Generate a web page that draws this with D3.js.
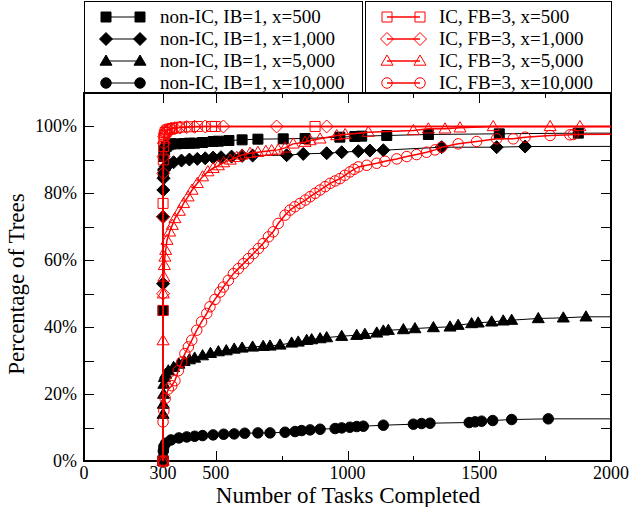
<!DOCTYPE html>
<html>
<head>
<meta charset="utf-8">
<script src="https://cdn.jsdelivr.net/npm/d3@7/dist/d3.min.js"></script>
<style>
  body { margin: 0; background: #fff; }
  text { font-family: "Liberation Serif", "Times New Roman", serif; fill: #000; }
</style>
</head>
<body>
<div id="chart"></div>
<script>
// [tasks completed, % of trees]; the last point of each series lies past 2000 so the line runs to the edge
const nonIC500 = [[300,0],[300,45],[301,86],[303,91],[306,93],[312,94],[320,94.5],[330,94.8],[350,94.8],[380,94.9],[400,95],[420,95],[450,95.2],[490,95.5],[510,95.6],[550,95.8],[600,96],[660,96.2],[756,96.3],[839,96.4],[971,96.8],[1028,97],[1054,97.1],[1149,97.3],[1307,97.6],[1576,97.8],[1876,98],[2500,98]];
const nonIC1000 = [[300,0],[300,53],[300,73],[301,81],[302,84.5],[304,87],[310,88],[320,88.5],[340,89.3],[370,89.8],[400,90.1],[430,90.3],[460,90.5],[490,90.7],[520,90.8],[560,91],[600,91.2],[640,91.3],[769,91.4],[832,91.8],[921,92],[978,92.3],[1041,92.6],[1085,92.8],[1136,92.9],[1357,93.8],[1566,93.8],[1674,94],[2500,94.1]];
const nonIC5000 = [[300,0],[300,14],[301,17],[302,20],[303,23],[305,25],[310,26],[320,27],[340,28],[360,29],[380,29.8],[400,30.3],[420,30.8],[450,31.5],[480,32.2],[510,32.7],[540,33],[570,33.5],[600,33.8],[640,34.1],[680,34.3],[706,34.4],[744,34.7],[788,35.3],[813,35.6],[845,36.1],[864,36.3],[896,36.6],[921,36.9],[978,37.3],[1035,37.6],[1066,37.9],[1111,38.3],[1136,38.9],[1155,39.1],[1212,39.3],[1256,39.6],[1326,39.9],[1389,40.1],[1420,40.6],[1471,41.1],[1496,41.3],[1547,41.6],[1591,41.9],[1623,42.1],[1724,42.6],[1819,42.8],[1905,43.1],[2500,43.1]];
const nonIC10000 = [[300,0],[300,1],[301,3],[303,4.3],[310,5.3],[330,6.3],[360,6.9],[390,7.2],[420,7.4],[450,7.6],[490,7.8],[530,8],[570,8.1],[610,8.3],[660,8.4],[706,8.4],[763,8.6],[801,8.8],[826,9.1],[858,9.3],[896,9.5],[953,9.7],[978,9.9],[1009,10.1],[1035,10.3],[1060,10.4],[1136,10.7],[1250,11],[1281,11.2],[1313,11.3],[1462,11.5],[1484,11.7],[1509,11.9],[1551,12.1],[1623,12.4],[1762,12.6],[2500,12.6]];
const ic500 = [[300,0],[300,45],[300,77],[301,90],[302,94],[303,96.5],[305,97.5],[308,98.2],[312,98.6],[318,99],[325,99.2],[335,99.4],[350,99.6],[370,99.8],[400,99.9],[430,100],[484,100],[498,100],[877,100],[2500,100]];
const ic1000 = [[300,0],[300,50],[300,73],[301,86],[302,91],[303,95],[305,97],[308,98],[312,98.5],[320,99],[330,99.3],[345,99.5],[365,99.7],[390,99.8],[420,99.9],[460,100],[529,100],[731,100],[921,100],[2500,100]];
const ic5000 = [[300,0],[300,36],[301,50],[303,55],[305,58.5],[307,61],[310,63],[315,66],[325,68.5],[335,70.5],[345,72.5],[362,74.7],[378,77],[395,79],[410,81],[430,83],[450,85],[470,86.5],[490,87.5],[510,88.3],[530,89.2],[555,90],[580,90.8],[600,91.5],[630,92],[660,92.3],[690,92.6],[712,92.8],[737,93],[763,93.6],[794,94.8],[839,95.3],[858,95.8],[896,96.3],[959,97.3],[991,97.6],[1079,98.3],[1250,98.8],[1307,99.3],[1370,99.3],[1427,99.6],[1553,100],[1769,100],[1882,100],[2500,100]];
const ic10000 = [[300,0],[300,11.7],[303,15],[308,18.7],[320,21.5],[333,22.5],[345,24],[358,27],[371,29.6],[383,32.1],[396,34.1],[409,36.1],[428,39.1],[446,41.6],[466,44.1],[478,46.1],[497,48.3],[516,50.5],[529,52],[548,54],[567,56],[586,57.5],[605,59],[624,60.5],[643,62],[662,63.5],[680,65],[700,67],[718,68.5],[737,71],[763,73.5],[782,75],[800,76],[820,77],[840,78],[858,79],[877,80],[896,81],[915,82],[934,83],[953,83.7],[971,84.4],[990,85.4],[1009,86.4],[1025,87.2],[1041,87.9],[1073,88.4],[1111,89],[1142,89.6],[1187,90.3],[1225,91],[1262,91.6],[1300,92.3],[1332,93],[1357,93.8],[1420,94.8],[1490,95.5],[1566,96.3],[1629,96.3],[1674,96.8],[1769,97.3],[1844,97.5],[1857,97.6],[2500,97.8]];

const nonICLabels = ['non-IC, IB=1, x=500', 'non-IC, IB=1, x=1,000', 'non-IC, IB=1, x=5,000', 'non-IC, IB=1, x=10,000'];
const icLabels = ['IC, FB=3, x=500', 'IC, FB=3, x=1,000', 'IC, FB=3, x=5,000', 'IC, FB=3, x=10,000'];
const shapes = ['square', 'diamond', 'triangle', 'circle'];

const xTicks = [0, 300, 500, 750, 1000, 1250, 1500, 1750, 2000];
const xTickLabels = [0, 300, 500, 1000, 1500, 2000];
const yTicks = [0, 10, 20, 30, 40, 50, 60, 70, 80, 90, 100];
const yTickLabels = [0, 20, 40, 60, 80, 100];

const W = 631, H = 507;
const m = { left: 84, right: 611, top: 93, bottom: 461 };
const R = 5;

const svg = d3.select('#chart').append('svg').attr('width', W).attr('height', H);

const x = d3.scaleLinear().domain([0, 2000]).range([m.left, m.right]);
const y = d3.scaleLinear().domain([0, 110]).range([m.bottom, m.top]);

// marker path centred on 0,0
function shapePath(kind, r) {
    if (kind === 'square') return `M${-r},${-r}H${r}V${r}H${-r}Z`;
    if (kind === 'diamond') { const d = r * 1.3; return `M0,${-d}L${d},0L0,${d}L${-d},0Z`; }
    if (kind === 'triangle') { const t = r * 1.2; return `M0,${-t}L${t},${t * 0.7}L${-t},${t * 0.7}Z`; }
    return d3.arc()({ innerRadius: 0, outerRadius: r * 1.05, startAngle: 0, endAngle: 2 * Math.PI });
}

// ticks (inward on all four sides)
const tk = svg.append('g').attr('stroke', '#000').attr('stroke-width', 1);
xTicks.forEach(v => {
    const len = xTickLabels.includes(v) ? 10 : 5;
    const px = Math.round(x(v)) + 0.5;
    tk.append('line').attr('x1', px).attr('x2', px).attr('y1', m.bottom).attr('y2', m.bottom - len);
    tk.append('line').attr('x1', px).attr('x2', px).attr('y1', m.top).attr('y2', m.top + len);
});
yTicks.forEach(v => {
    const py = Math.round(y(v)) + 0.5;
    tk.append('line').attr('x1', m.left).attr('x2', m.left + 10).attr('y1', py).attr('y2', py);
    tk.append('line').attr('x1', m.right).attr('x2', m.right - 10).attr('y1', py).attr('y2', py);
});

// tick labels
svg.append('g').selectAll('text').data(xTickLabels).enter().append('text')
    .attr('x', d => x(d)).attr('y', 479).attr('text-anchor', 'middle')
    .style('font-size', '18px').text(d => d);
svg.append('g').selectAll('text').data(yTickLabels).enter().append('text')
    .attr('x', 77).attr('y', d => y(d) + 6).attr('text-anchor', 'end')
    .style('font-size', '18px').text(d => d + '%');

// axis titles
svg.append('text').attr('x', 348).attr('y', 503).attr('text-anchor', 'middle')
    .style('font-size', '23px').text('Number of Tasks Completed');
svg.append('text').attr('transform', 'translate(24,284) rotate(-90)').attr('text-anchor', 'middle')
    .style('font-size', '23px').text('Percentage of Trees');

// frame
svg.append('rect').attr('x', m.left).attr('y', m.top)
    .attr('width', m.right - m.left).attr('height', m.bottom - m.top)
    .attr('fill', 'none').attr('stroke', '#000').attr('stroke-width', 2);

// series
svg.append('clipPath').attr('id', 'clip').append('rect')
    .attr('x', m.left - 10).attr('y', m.top - 10)
    .attr('width', m.right - m.left + 10).attr('height', m.bottom - m.top + 20);
const plot = svg.append('g').attr('clip-path', 'url(#clip)');
const line = d3.line().x(d => x(d[0])).y(d => y(d[1]));

const series = [
    { data: nonIC500, shape: 'square', color: '#000', fill: '#000' },
    { data: nonIC1000, shape: 'diamond', color: '#000', fill: '#000' },
    { data: nonIC5000, shape: 'triangle', color: '#000', fill: '#000' },
    { data: nonIC10000, shape: 'circle', color: '#000', fill: '#000' },
    { data: ic500, shape: 'square', color: '#ff0000', fill: 'none' },
    { data: ic1000, shape: 'diamond', color: '#ff0000', fill: 'none' },
    { data: ic5000, shape: 'triangle', color: '#ff0000', fill: 'none' },
    { data: ic10000, shape: 'circle', color: '#ff0000', fill: 'none' }
];

series.forEach(s => {
    const red = s.fill === 'none';
    plot.append('path').datum(s.data).attr('d', line)
        .attr('fill', 'none').attr('stroke', s.color).attr('stroke-width', red ? 1.5 : 1);
    plot.append('g').selectAll('path').data(s.data).enter().append('path')
        .attr('transform', d => `translate(${x(d[0])},${y(d[1])})`)
        .attr('d', shapePath(s.shape, R))
        .attr('fill', s.fill).attr('stroke', s.color).attr('stroke-width', 1);
});

// legend: two boxes above the plot
function legendBox(x0, w, labels, color, fill, mx1, mx2, tx) {
    const g = svg.append('g');
    g.append('rect').attr('x', x0 + 0.5).attr('y', 1.5).attr('width', w).attr('height', m.top - 1.5)
        .attr('fill', '#fff').attr('stroke', '#000').attr('stroke-width', 1);
    labels.forEach((lab, i) => {
        const ly = 17 + i * 22;
        g.append('line').attr('x1', mx1).attr('x2', mx2).attr('y1', ly).attr('y2', ly)
            .attr('stroke', color).attr('stroke-width', fill === 'none' ? 1.5 : 1);
        [mx1, mx2].forEach(mx => {
            g.append('path').attr('transform', `translate(${mx},${ly})`)
                .attr('d', shapePath(shapes[i], R))
                .attr('fill', fill).attr('stroke', color).attr('stroke-width', 1);
        });
        g.append('text').attr('x', tx).attr('y', ly + 6).style('font-size', '19px').text(lab);
    });
}
legendBox(m.left, 278, nonICLabels, '#000', '#000', 106, 140, 160);
legendBox(365, m.right - 365, icLabels, '#ff0000', 'none', 387, 420, 439);

// redraw plot top edge over legend boxes
svg.append('line').attr('x1', m.left - 1).attr('x2', m.right + 1).attr('y1', m.top).attr('y2', m.top)
    .attr('stroke', '#000').attr('stroke-width', 2);
</script>
</body>
</html>
